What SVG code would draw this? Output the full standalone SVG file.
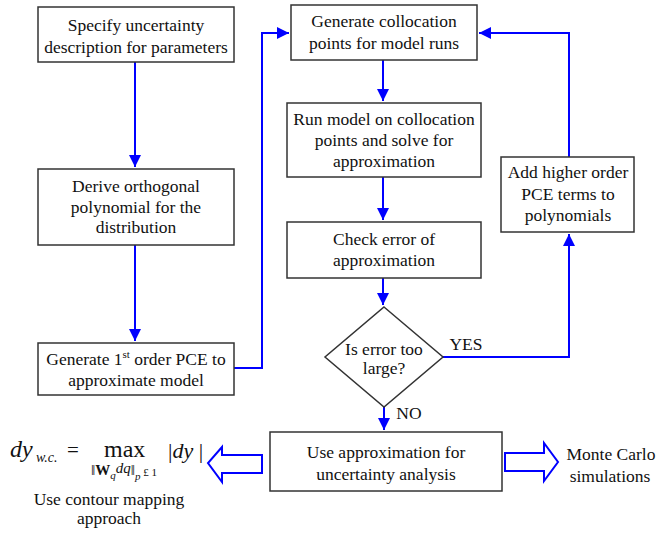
<svg xmlns="http://www.w3.org/2000/svg" width="657" height="536" viewBox="0 0 657 536" font-family="Liberation Serif, Times New Roman, serif">
<defs>
<marker id="ah" viewBox="0 0 12 12" refX="12" refY="6" markerWidth="12" markerHeight="12" markerUnits="userSpaceOnUse" orient="auto">
<path d="M0,0 L12,6 L0,12 Z" fill="#0000FF"/>
</marker>
<style>
.box{fill:#fff;stroke:#333;stroke-width:1.5}
.t{fill:#111;text-anchor:middle;font-size:17.5px}
.c{fill:none;stroke:#0000FF;stroke-width:2}
.ha{fill:#fff;stroke:#0000FF;stroke-width:2}
.m{fill:#111}
</style>
</defs>
<g id="connectors">
<path class="c" d="M135,62 V167" marker-end="url(#ah)"/>
<path class="c" d="M135,245 V341" marker-end="url(#ah)"/>
<path class="c" d="M234,368 H262 V33 H289" marker-end="url(#ah)"/>
<path class="c" d="M383,60 V101" marker-end="url(#ah)"/>
<path class="c" d="M383,177 V220" marker-end="url(#ah)"/>
<path class="c" d="M383,278 V305" marker-end="url(#ah)"/>
<path class="c" d="M443,357 H569 V234" marker-end="url(#ah)"/>
<path class="c" d="M569,157 V33 H479" marker-end="url(#ah)"/>
<path class="c" d="M384,407 V430" marker-end="url(#ah)"/>
<text class="t" x="466" y="350">YES</text>
<text class="t" x="409" y="419">NO</text>
</g>
<g id="n1">
<rect class="box" x="38" y="7" width="196" height="55"/>
<text class="t" x="136" y="31">Specify uncertainty</text>
<text class="t" x="136" y="53">description for parameters</text>
</g>
<g id="n2">
<rect class="box" x="38" y="169" width="196" height="76"/>
<text class="t" x="136" y="192">Derive orthogonal</text>
<text class="t" x="136" y="213">polynomial for the</text>
<text class="t" x="136" y="233">distribution</text>
</g>
<g id="n3">
<rect class="box" x="38" y="343" width="196" height="52"/>
<text class="t" x="136" y="365">Generate 1<tspan font-size="11" dy="-7">st</tspan><tspan dy="7"> order PCE to</tspan></text>
<text class="t" x="136" y="386">approximate model</text>
</g>
<g id="n4">
<rect class="box" x="291" y="5" width="186" height="55"/>
<text class="t" x="384" y="27">Generate collocation</text>
<text class="t" x="384" y="49">points for model runs</text>
</g>
<g id="n5">
<rect class="box" x="287" y="103" width="194" height="74"/>
<text class="t" x="384" y="125">Run model on collocation</text>
<text class="t" x="384" y="146">points and solve for</text>
<text class="t" x="384" y="167">approximation</text>
</g>
<g id="n6">
<rect class="box" x="287" y="222" width="194" height="56"/>
<text class="t" x="384" y="245">Check error of</text>
<text class="t" x="384" y="266">approximation</text>
</g>
<g id="n7">
<path class="box" d="M384,307 L443,357 L384,407 L325,357 Z"/>
<text class="t" x="384" y="355">Is error too</text>
<text class="t" x="384" y="374">large?</text>
</g>
<g id="n8">
<rect class="box" x="501" y="157" width="133" height="75"/>
<text class="t" x="568" y="178">Add higher order</text>
<text class="t" x="568" y="200">PCE terms to</text>
<text class="t" x="568" y="221">polynomials</text>
</g>
<g id="n9">
<rect class="box" x="270" y="432" width="232" height="59"/>
<text class="t" x="386" y="458">Use approximation for</text>
<text class="t" x="386" y="480">uncertainty analysis</text>
</g>
<g id="arrow-left">
<path class="ha" d="M262,455 H222 V447 L208,463 L222,482 V473 H262 Z"/>
</g>
<g id="arrow-right">
<path class="ha" d="M505,453 H544 V443 L558,462 L544,481 V471 H505 Z"/>
</g>
<g id="n10">
<text class="t" x="611" y="460">Monte Carlo</text>
<text class="t" x="610" y="482">simulations</text>
</g>
<g id="n11">
<text class="m" x="10" y="457" font-size="24" font-style="italic">dy</text>
<text class="m" x="36" y="462" font-size="14" font-style="italic">w.c.</text>
<text class="m" x="67" y="457" font-size="21">=</text>
<text class="m" x="104" y="457" font-size="24">max</text>
<text class="m" x="168" y="458" font-size="22">|<tspan font-style="italic">dy</tspan> |</text>
<text class="m" x="91" y="475" font-size="15">‖<tspan font-weight="bold">W</tspan><tspan font-size="11" font-style="italic" dy="4">q</tspan><tspan font-style="italic" dy="-6">dq</tspan><tspan dy="2">‖</tspan><tspan font-size="11" font-style="italic" dy="5">p</tspan><tspan font-size="11" dy="-4"> £ 1</tspan></text>
<text class="t" x="109" y="505">Use contour mapping</text>
<text class="t" x="109" y="524">approach</text>
</g>
</svg>
